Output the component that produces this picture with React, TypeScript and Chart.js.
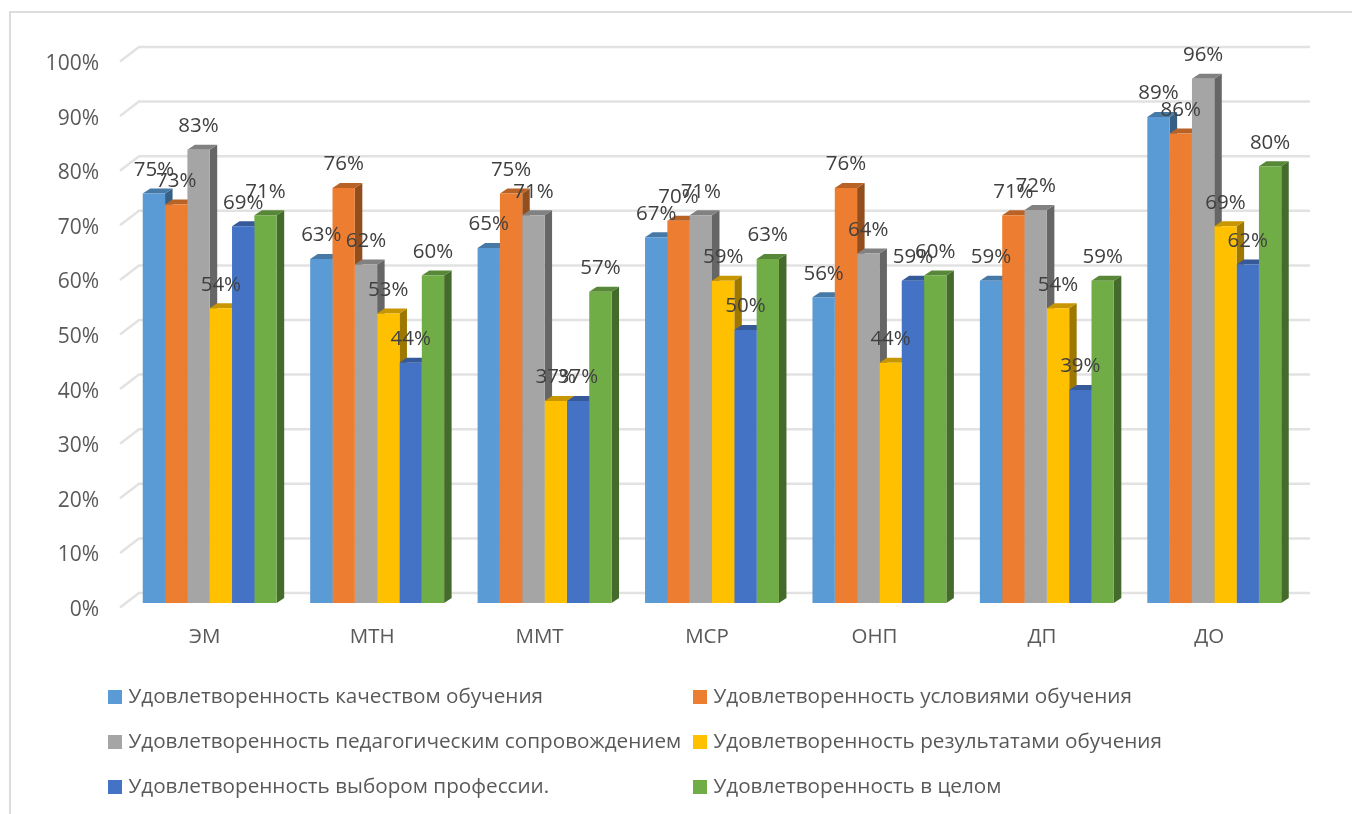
import React, { useEffect, useRef } from "react";
import { Chart, registerables } from "chart.js";

Chart.register(...registerables);

const categories = ["ЭМ", "МТН", "ММТ", "МСР", "ОНП", "ДП", "ДО"];
const quality = [75, 63, 65, 67, 56, 59, 89];
const conditions = [73, 76, 75, 70, 76, 71, 86];
const pedagogical = [83, 62, 71, 71, 64, 72, 96];
const results = [54, 53, 37, 59, 44, 54, 69];
const profession = [69, 44, 37, 50, 59, 39, 62];
const overall = [71, 60, 57, 63, 60, 59, 80];

const seriesLabels = [
  "Удовлетворенность качеством обучения",
  "Удовлетворенность условиями обучения",
  "Удовлетворенность педагогическим сопровождением",
  "Удовлетворенность результатами обучения",
  "Удовлетворенность выбором профессии.",
  "Удовлетворенность в целом",
];
const seriesValues = [quality, conditions, pedagogical, results, profession, overall];
const colors = ["#5B9BD5", "#ED7D31", "#A5A5A5", "#FFC000", "#4472C4", "#70AD47"];
const yTicks = { min: 0, max: 100, step: 10 };

const FONT = '"Open Sans", sans-serif';
const DEPTH_X = 7.5;
const DEPTH_Y = 5;

function shade(hex: string, f: number) {
  const n = parseInt(hex.slice(1), 16);
  const r = Math.round(((n >> 16) & 255) * f);
  const g = Math.round(((n >> 8) & 255) * f);
  const b = Math.round((n & 255) * f);
  return `rgb(${r},${g},${b})`;
}

const wallPlugin = {
  id: "wall",
  beforeDatasetsDraw(chart: any) {
    const { ctx, scales } = chart;
    const y = scales.y;
    const left = y.right - 6;
    const right = scales.x.right + 12;
    ctx.save();
    ctx.strokeStyle = "#e2e2e2";
    ctx.lineWidth = 2.5;
    for (let v = yTicks.min; v <= yTicks.max; v += yTicks.step) {
      const py = y.getPixelForValue(v);
      ctx.beginPath();
      ctx.moveTo(left, py + 4.5);
      ctx.lineTo(left + 19, py - 10);
      ctx.lineTo(right, py - 10);
      ctx.stroke();
    }
    // side and top faces of the bars; fronts are drawn by the library afterwards
    chart.data.datasets.forEach((ds: any, i: number) => {
      const meta = chart.getDatasetMeta(i);
      const color = ds.backgroundColor;
      meta.data.forEach((bar: any) => {
        const l = bar.x - bar.width / 2;
        const r = bar.x + bar.width / 2;
        ctx.fillStyle = shade(color, 0.62);
        ctx.beginPath();
        ctx.moveTo(r, bar.base);
        ctx.lineTo(r + DEPTH_X, bar.base - DEPTH_Y);
        ctx.lineTo(r + DEPTH_X, bar.y - DEPTH_Y);
        ctx.lineTo(r, bar.y);
        ctx.closePath();
        ctx.fill();
        ctx.fillStyle = shade(color, 0.78);
        ctx.beginPath();
        ctx.moveTo(l, bar.y);
        ctx.lineTo(l + DEPTH_X, bar.y - DEPTH_Y);
        ctx.lineTo(r + DEPTH_X, bar.y - DEPTH_Y);
        ctx.lineTo(r, bar.y);
        ctx.closePath();
        ctx.fill();
      });
    });
    ctx.restore();
  },
};

const labelPlugin = {
  id: "labels",
  afterDatasetsDraw(chart: any) {
    const { ctx } = chart;
    ctx.save();
    ctx.font = `20.5px ${FONT}`;
    ctx.fillStyle = "#404040";
    ctx.textAlign = "center";
    ctx.textBaseline = "middle";
    chart.data.datasets.forEach((ds: any, i: number) => {
      chart.getDatasetMeta(i).data.forEach((bar: any, j: number) => {
        ctx.fillText(`${ds.data[j]}%`, bar.x, bar.y - 23.5);
      });
    });
    ctx.restore();
  },
};

const legendPlugin = {
  id: "legendGrid",
  afterDraw(chart: any) {
    const { ctx } = chart;
    const columns = [108, 693];
    const rows = [697, 742, 787];
    ctx.save();
    ctx.font = `20.7px ${FONT}`;
    ctx.textBaseline = "middle";
    ctx.textAlign = "left";
    chart.data.datasets.forEach((ds: any, i: number) => {
      const x = columns[i % 2];
      const y = rows[Math.floor(i / 2)];
      ctx.fillStyle = ds.backgroundColor;
      ctx.fillRect(x, y - 7, 14, 14);
      ctx.fillStyle = "#595959";
      ctx.fillText(ds.label, x + 20.5, y + 0.5);
    });
    ctx.restore();
  },
};

export default function App() {
  const ref = useRef<HTMLCanvasElement | null>(null);

  useEffect(() => {
    if (!ref.current) return;
    const chart = new Chart(ref.current, {
      type: "bar",
      data: {
        labels: categories,
        datasets: seriesValues.map((data, i) => ({
          label: seriesLabels[i],
          data,
          backgroundColor: colors[i],
          borderWidth: 0,
          categoryPercentage: 0.8,
          barPercentage: 1,
        })),
      },
      options: {
        animation: false,
        responsive: false,
        devicePixelRatio: 1,
        layout: { padding: { top: 57, right: 54, left: 0, bottom: 0 } },
        plugins: { legend: { display: false }, tooltip: { enabled: false }, title: { display: false } },
        scales: {
          x: {
            grid: { display: false },
            border: { display: false },
            afterFit: (s: any) => {
              s.height = 211;
            },
            ticks: {
              color: "#595959",
              font: { family: FONT, size: 20.5 },
              padding: 14,
              labelOffset: -5,
              maxRotation: 0,
            },
          },
          y: {
            min: yTicks.min,
            max: yTicks.max,
            grid: { display: false },
            border: { display: false },
            afterFit: (s: any) => {
              s.width = 126;
            },
            ticks: {
              stepSize: yTicks.step,
              color: "#595959",
              font: { family: FONT, size: 21 },
              padding: 19,
              labelOffset: 7,
              callback: (v: any) => `${v}%`,
            },
          },
        },
      },
      plugins: [wallPlugin, labelPlugin, legendPlugin],
    } as any);
    return () => chart.destroy();
  }, []);

  return (
    <div style={{ position: "absolute", left: 0, top: 0, width: 1352, height: 814, overflow: "hidden", background: "#fff" }}>
      <canvas ref={ref} width={1352} height={814} style={{ display: "block", width: 1352, height: 814, filter: "blur(0.5px)" }} />
      <div
        style={{
          position: "absolute",
          left: 9,
          top: 11,
          width: 1343,
          height: 803,
          borderTop: "2px solid #dcdcdc",
          borderLeft: "2px solid #dcdcdc",
          boxSizing: "border-box",
        }}
      />
    </div>
  );
}
